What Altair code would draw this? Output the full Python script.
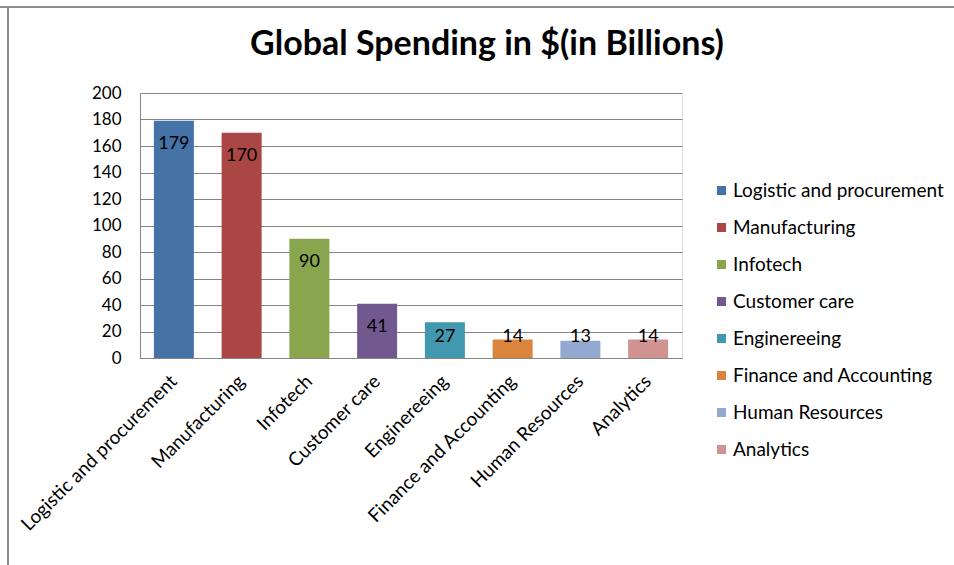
import altair as alt
import pandas as pd

categories = ["Logistic and procurement", "Manufacturing", "Infotech", "Customer care",
              "Enginereeing", "Finance and Accounting", "Human Resources", "Analytics"]
values = [179, 170, 90, 41, 27, 14, 13, 14]
colors = ["#4572A7", "#AA4643", "#89A54E", "#71588F", "#4198AF", "#DB843D", "#93A9CF", "#D19392"]
y_ticks = [0, 20, 40, 60, 80, 100, 120, 140, 160, 180, 200]

df = pd.DataFrame({"category": categories, "value": values})

FONT = "Lato"
GRID = "#868686"

x_axis = alt.Axis(labelAngle=-45, labelAlign="right", labelBaseline="middle",
                  labelFontSize=19, labelFont=FONT, labelColor="#000000",
                  ticks=False, domainColor=GRID, labelPadding=20, labelLimit=400)
y_axis = alt.Axis(values=y_ticks, ticks=False, labelPadding=19, labelFontSize=17,
                  labelFont=FONT, labelColor="#000000", domainColor=GRID,
                  labelOverlap=False, gridColor=GRID, gridOpacity=1)

base = alt.Chart(df)

bars = base.mark_bar(size=40).encode(
    x=alt.X("category:N", sort=categories, title=None, axis=x_axis),
    y=alt.Y("value:Q", scale=alt.Scale(domain=[0, 200]), title=None, axis=y_axis),
    color=alt.Color("category:N", scale=alt.Scale(domain=categories, range=colors),
                    legend=alt.Legend(title=None, orient="none", legendX=572, legendY=88,
                                      symbolType="square", symbolSize=81, symbolStrokeWidth=0,
                                      labelFontSize=19, labelFont=FONT, labelColor="#000000",
                                      rowPadding=17, labelOffset=2, labelLimit=400)),
)

labels = base.transform_calculate(
    labpos="max(datum.value - 17.5, 15.5)"
).mark_text(fontSize=18, font=FONT, color="#000000", baseline="middle").encode(
    x=alt.X("category:N", sort=categories, title=None, axis=x_axis),
    y=alt.Y("labpos:Q", scale=alt.Scale(domain=[0, 200]), title=None, axis=y_axis),
    text=alt.Text("value:Q"),
)

border_top = alt.Chart(df).mark_rule(color="#8c8c8c", strokeWidth=2).encode(
    x=alt.value(-140), x2=alt.value(814), y=alt.value(-86)
)
border_left = alt.Chart(df).mark_rule(color="#8c8c8c", strokeWidth=2).encode(
    x=alt.value(-132), y=alt.value(-86), y2=alt.value(472)
)

chart = alt.layer(bars, labels, border_top, border_left).properties(
    width=542, height=265,
    autosize=alt.AutoSizeParams(type="none"),
    padding={"left": 140, "top": 93, "right": 272, "bottom": 207},
    title=alt.TitleParams("Global Spending in $(in Billions)", font=FONT, fontSize=34,
                          fontWeight="bold", color="#000000", anchor="middle", dx=76,
                          baseline="alphabetic", frame="group", offset=-83),
).configure_view(strokeWidth=0).configure(background="#ffffff")

chart.save("out.html", embed_options={"renderer": "svg", "actions": False})
